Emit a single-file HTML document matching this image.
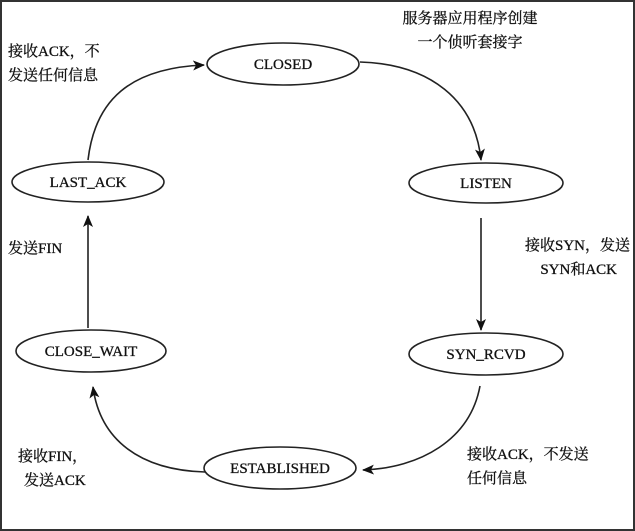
<!DOCTYPE html>
<html><head><meta charset="utf-8"><style>
html,body{margin:0;padding:0;background:#fff}
svg{display:block}
text{font-family:"Liberation Serif","Noto Serif CJK SC",serif;font-size:15px;fill:#111;stroke:#111;stroke-width:0.3}
</style></head><body>
<svg width="635" height="531" viewBox="0 0 635 531" xmlns="http://www.w3.org/2000/svg">
<defs><marker id="a" markerWidth="12" markerHeight="10" refX="11" refY="5" orient="auto" markerUnits="userSpaceOnUse"><path d="M0,0 L12,5 L0,10 L3,5 Z" fill="#111"/></marker></defs>
<rect x="1" y="1" width="633" height="529" fill="none" stroke="#333" stroke-width="2"/>
<g fill="none" stroke="#222" stroke-width="1.6">
<ellipse cx="283" cy="64" rx="76" ry="21"/>
<ellipse cx="88" cy="182" rx="76" ry="20"/>
<ellipse cx="486" cy="183" rx="77" ry="20"/>
<ellipse cx="91" cy="351" rx="75" ry="21"/>
<ellipse cx="486" cy="354" rx="77" ry="21"/>
<ellipse cx="280" cy="468" rx="76" ry="21"/>
<path d="M88,160 C95,100 130,68 204,65" marker-end="url(#a)"/>
<path d="M360,62 C430,64 475,100 481,160" marker-end="url(#a)"/>
<path d="M481,218 L481,330" marker-end="url(#a)"/>
<path d="M88,328 L88,216" marker-end="url(#a)"/>
<path d="M480,386 C470,440 420,468 363,470" marker-end="url(#a)"/>
<path d="M205,472 C140,470 100,440 93,387" marker-end="url(#a)"/>
</g>
<g text-anchor="middle">
<text x="283" y="69">CLOSED</text>
<text x="88" y="187">LAST_ACK</text>
<text x="486" y="188">LISTEN</text>
<text x="91" y="356">CLOSE_WAIT</text>
<text x="486" y="359">SYN_RCVD</text>
<text x="280" y="473">ESTABLISHED</text>
<text x="470" y="23">服务器应用程序创建</text>
<text x="470" y="47">一个侦听套接字</text>
</g>
<text x="8" y="56">接收ACK，不</text>
<text x="8" y="80">发送任何信息</text>
<text x="8" y="253">发送FIN</text>
<text x="630" y="250" text-anchor="end">接收SYN，发送</text>
<text x="617" y="274" text-anchor="end">SYN和ACK</text>
<text x="18" y="461">接收FIN，</text>
<text x="24" y="485">发送ACK</text>
<text x="467" y="459">接收ACK，不发送</text>
<text x="467" y="483">任何信息</text>
</svg>
</body></html>
